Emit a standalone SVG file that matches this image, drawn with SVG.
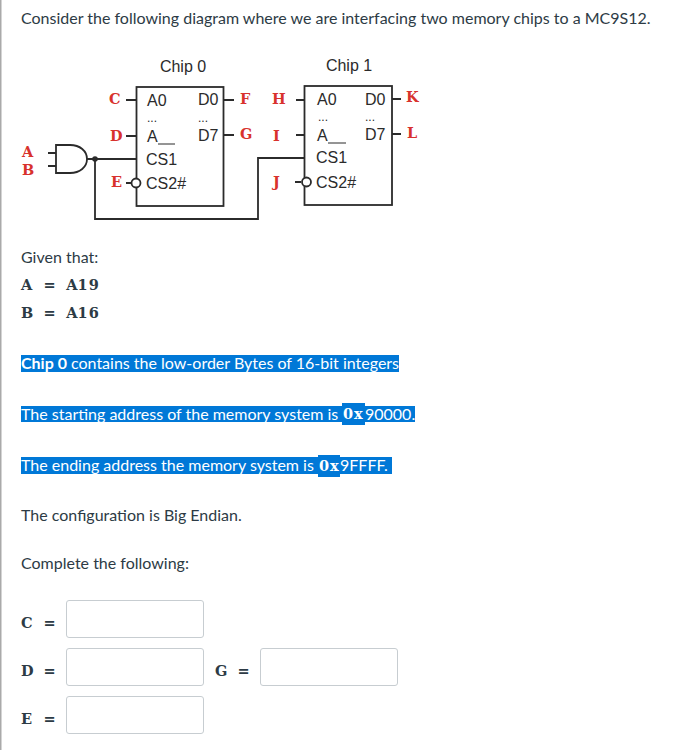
<svg xmlns="http://www.w3.org/2000/svg" width="682" height="750" viewBox="0 0 682 750">
<style>
.t{font-family:Lato,"Liberation Sans",sans-serif;font-size:16px;fill:#2d3b45}
.w{fill:#fff}
.b{font-weight:700}
.m{font-family:"DejaVu Serif",serif;font-size:14.500px;font-weight:700;fill:#2d3b45}
.mw{fill:#fff}
.c{font-family:"Liberation Sans",Arial,sans-serif;font-size:16px;fill:#2b2b2b}
.d{font-size:12px}
.r{font-family:"DejaVu Serif",serif;font-size:14.500px;font-weight:700;fill:#d8322d}
.chip{fill:#fff;stroke:#2b2b2b;stroke-width:1.8}
.wire{fill:none;stroke:#2b2b2b;stroke-width:1.8}
.u{fill:none;stroke:#2b2b2b;stroke-width:1}
.hl{fill:#0078d7}
.box{fill:#fff;stroke:#c7cdd1;stroke-width:1}
</style>
<rect x="0" y="0" width="1.500" height="750" fill="#aaa"/>
<text class="t" x="21" y="24">Consider the following diagram where we are interfacing two memory chips to a MC9S12.</text>

<g id="connectors">
<path class="wire" d="M48 153H56M48 166H56"/>
<path class="wire" d="M87 159H136.500M95 159V219H258V158H304"/>
<circle cx="95" cy="159" r="2.800" fill="#2b2b2b"/>
<path class="wire" d="M126 100H136M126 136H136M126 183H132M224 100H234M224 135H234"/>
<path class="wire" d="M296 100H304M296 135H304M295 182H301M392 99H401M392 134H401"/>
</g>

<g id="and-gate"><path class="wire" d="M56 145H70C80 145 87 151 87 159C87 167 80 173 70 173H56Z"/></g>

<g id="chip0">
<text class="c" x="183" y="72" text-anchor="middle">Chip 0</text>
<rect class="chip" x="136.500" y="87" width="87" height="119"/>
<circle cx="136" cy="183" r="4.500" fill="#fff" stroke="#2b2b2b" stroke-width="1.800"/>
<text class="c" x="147" y="106">A0</text>
<text class="c" x="198" y="105">D0</text>
<text class="c d" x="147" y="122">...</text>
<text class="c d" x="198" y="122">...</text>
<text class="c" x="147" y="142">A</text>
<path class="u" d="M158 144H175"/>
<text class="c" x="198" y="141">D7</text>
<text class="c" x="146" y="165">CS1</text>
<text class="c" x="146" y="189">CS2#</text>
</g>

<g id="chip1">
<text class="c" x="349" y="71" text-anchor="middle">Chip 1</text>
<rect class="chip" x="304.500" y="86" width="87.500" height="119"/>
<circle cx="306.500" cy="182" r="4.500" fill="#fff" stroke="#2b2b2b" stroke-width="1.800"/>
<text class="c" x="317" y="105">A0</text>
<text class="c" x="365" y="105">D0</text>
<text class="c d" x="318" y="121">...</text>
<text class="c d" x="365" y="121">...</text>
<text class="c" x="317" y="141">A</text>
<path class="u" d="M328 143H346"/>
<text class="c" x="365" y="140">D7</text>
<text class="c" x="316" y="163">CS1</text>
<text class="c" x="316" y="188">CS2#</text>
</g>

<g id="labels">
<text class="r" x="22" y="157">A</text>
<text class="r" x="22" y="175">B</text>
<text class="r" x="109" y="104">C</text>
<text class="r" x="110" y="141">D</text>
<text class="r" x="111" y="187">E</text>
<text class="r" x="240" y="104">F</text>
<text class="r" x="240" y="139">G</text>
<text class="r" x="272" y="104">H</text>
<text class="r" x="273" y="141">I</text>
<text class="r" x="273" y="187">J</text>
<text class="r" x="406" y="102">K</text>
<text class="r" x="407" y="138">L</text>
</g>

<text class="t" x="21" y="263">Given that:</text>
<text class="m" x="21 32.300 43.600 54.900 66.200 77.500 88.800" y="290" xml:space="preserve">A = A19</text>
<text class="m" x="21 32.300 43.600 54.900 66.200 77.500 88.800" y="318" xml:space="preserve">B = A16</text>

<rect class="hl" x="21" y="355" width="378" height="17"/>
<text class="t w b" x="21" y="369">Chip 0</text>
<text class="t w" x="71" y="369">contains the low-order Bytes of 16-bit integers</text>

<rect class="hl" x="21" y="406" width="394" height="16"/>
<rect class="hl" x="342" y="403" width="23" height="22"/>
<text class="t w" x="21" y="420">The starting address of the memory system is</text>
<text class="m mw" x="343 354" y="419">0x</text>
<text class="t w" x="365" y="420">90000.</text>

<rect class="hl" x="21" y="457" width="371" height="17"/>
<rect class="hl" x="318" y="455" width="22" height="22"/>
<text class="t w" x="21" y="471">The ending address the memory system is</text>
<text class="m mw" x="319 330" y="471">0x</text>
<text class="t w" x="340" y="471">9FFFF.</text>

<text class="t" x="21" y="521">The configuration is Big Endian.</text>
<text class="t" x="21" y="569">Complete the following:</text>

<g id="answers">
<text class="m" x="21 32.300 43.600" y="628" xml:space="preserve">C =</text>
<rect class="box" x="66.500" y="600.500" width="137" height="37" rx="2.500"/>
<text class="m" x="21 32.300 43.600" y="676" xml:space="preserve">D =</text>
<rect class="box" x="66.500" y="648.500" width="137" height="37" rx="2.500"/>
<text class="m" x="215 226.300 237.600" y="676" xml:space="preserve">G =</text>
<rect class="box" x="260.500" y="648.500" width="137" height="37" rx="2.500"/>
<text class="m" x="21 32.300 43.600" y="724" xml:space="preserve">E =</text>
<rect class="box" x="66.500" y="696.500" width="137" height="37" rx="2.500"/>
</g>
</svg>
